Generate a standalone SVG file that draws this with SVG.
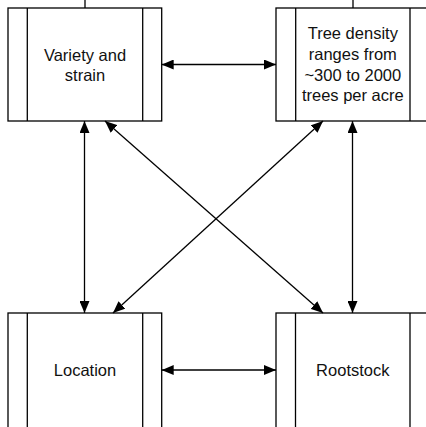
<svg xmlns="http://www.w3.org/2000/svg" width="426" height="427" viewBox="0 0 426 427">
  <style>
    .box { fill: #ffffff; stroke: #000000; stroke-width: 1.3; }
    .strip { fill: none; stroke: #000000; stroke-width: 1.3; }
    .lbl { font-family: "Liberation Sans", Arial, sans-serif; font-size: 16.5px; fill: #111111; text-anchor: middle; }
    .conn { fill: none; stroke: #000000; stroke-width: 1.3; marker-start: url(#arrow); marker-end: url(#arrow); }
    .stub { fill: none; stroke: #000000; stroke-width: 1.3; }
  </style>
  <defs>
    <marker id="arrow" viewBox="0 0 12 10" refX="12" refY="5" markerWidth="12" markerHeight="10" markerUnits="userSpaceOnUse" orient="auto-start-reverse">
      <path d="M0,0 L12,5 L0,10 Z" fill="#000000"/>
    </marker>
  </defs>

  <rect width="426" height="427" fill="#ffffff"/>

  <!-- incoming stubs above the top boxes -->
  <line class="stub" x1="85" y1="0" x2="85" y2="8"/>
  <line class="stub" x1="353" y1="0" x2="353" y2="8"/>

  <g id="variety">
    <rect class="box" x="8" y="8" width="153.7" height="113"/>
    <line class="strip" x1="27.3" y1="8" x2="27.3" y2="121"/>
    <line class="strip" x1="142.7" y1="8" x2="142.7" y2="121"/>
    <text class="lbl" x="85" y="60.5">Variety and</text>
    <text class="lbl" x="85" y="81">strain</text>
  </g>

  <g id="density">
    <rect class="box" x="276" y="8" width="154" height="113"/>
    <line class="strip" x1="295.7" y1="8" x2="295.7" y2="121"/>
    <line class="strip" x1="410" y1="8" x2="410" y2="121"/>
    <text class="lbl" x="352.8" y="39">Tree density</text>
    <text class="lbl" x="352.8" y="59.8">ranges from</text>
    <text class="lbl" x="352.8" y="80.5">~300 to 2000</text>
    <text class="lbl" x="352.8" y="101">trees per acre</text>
  </g>

  <g id="location">
    <rect class="box" x="8" y="313" width="153.7" height="130"/>
    <line class="strip" x1="27.3" y1="313" x2="27.3" y2="443"/>
    <line class="strip" x1="142.7" y1="313" x2="142.7" y2="443"/>
    <text class="lbl" x="85" y="375.5">Location</text>
  </g>

  <g id="rootstock">
    <rect class="box" x="276" y="313" width="154" height="130"/>
    <line class="strip" x1="295.5" y1="313" x2="295.5" y2="443"/>
    <line class="strip" x1="410" y1="313" x2="410" y2="443"/>
    <text class="lbl" x="352.8" y="375.5">Rootstock</text>
  </g>

  <g id="connectors">
    <line class="conn" x1="161.7" y1="64.5" x2="276" y2="64.5"/>
    <line class="conn" x1="161.7" y1="370" x2="276" y2="370"/>
    <line class="conn" x1="84.5" y1="121" x2="84.5" y2="313"/>
    <line class="conn" x1="352.5" y1="121" x2="352.5" y2="313"/>
    <line class="conn" x1="105" y1="121" x2="323" y2="313"/>
    <line class="conn" x1="323" y1="121" x2="113" y2="313"/>
  </g>
</svg>
